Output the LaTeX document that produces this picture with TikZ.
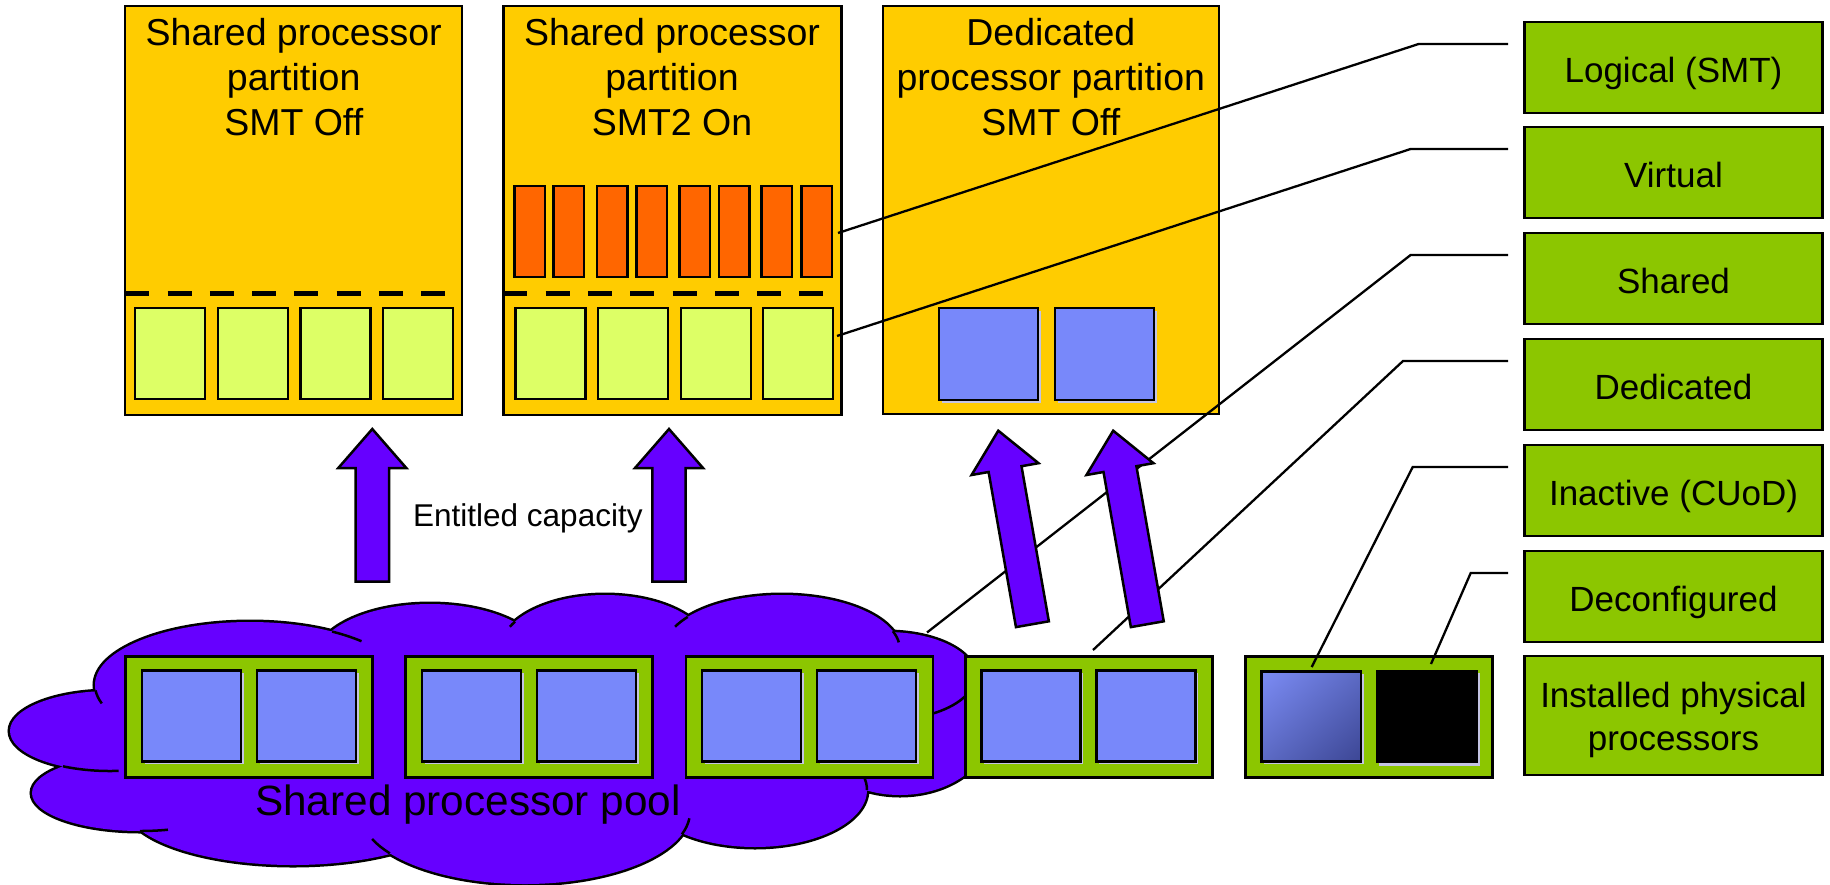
\documentclass[tikz,border=0pt]{standalone}
\usepackage{fontspec}
\setmainfont{Liberation Sans}
\usetikzlibrary{shadows,shadings,calc}

\definecolor{partgold}{RGB}{255,204,0}
\definecolor{corelime}{RGB}{221,255,102}
\definecolor{threadorange}{RGB}{255,102,0}
\definecolor{cpublue}{RGB}{120,136,250}
\definecolor{chassisgreen}{RGB}{140,198,0}
\definecolor{poolpurple}{RGB}{102,0,255}
\definecolor{cpushadow}{RGB}{196,196,226}
\definecolor{inactivelight}{RGB}{124,140,245}
\definecolor{inactivemid}{RGB}{92,106,196}
\definecolor{inactivedark}{RGB}{60,70,148}

\newcommand\parttitlefont{\fontsize{37.5}{45}\selectfont}
\newcommand\legendtextfont{\fontsize{35}{43}\selectfont}
\newcommand\poolnamefont{\fontsize{42.3}{48}\selectfont}
\newcommand\capacityfont{\fontsize{31.5}{38}\selectfont}

% lobes of the processor-pool cloud (pixel-style coordinates, y grows downwards)
\newcommand\poollobes{
  (250,685) ellipse [x radius=155, y radius=63]
  (430,660) ellipse [x radius=115, y radius=56]
  (605,650) ellipse [x radius=105, y radius=55]
  (782,650) ellipse [x radius=118, y radius=55]
  (887,676) ellipse [x radius=88, y radius=44]
  (900,730) ellipse [x radius=90, y radius=65]
  (755,790) ellipse [x radius=112, y radius=57]
  (525,812) ellipse [x radius=165, y radius=72]
  (293,805) ellipse [x radius=168, y radius=60]
  (140,793) ellipse [x radius=108, y radius=38]
  (110,731) ellipse [x radius=100, y radius=40]
  (490,720) ellipse [x radius=380, y radius=80]
}
% short inner arc of one lobe: centre x, centre y, rx, ry, from angle, to angle
\newcommand\lobestub[6]{%
  \draw[line width=2.5pt] (#1,#2) ++(#5:#3 and #4)
    arc[start angle=#5, end angle=#6, x radius=#3, y radius=#4];}
% broad block arrow: base x, base y, length, tilt
\newcommand\fatup[4]{%
  \path[fatarrow, shift={(#1,#2)}, rotate=#4]
    (-16.7,0) -- (-16.7,-#3+39) -- (-34,-#3+39) -- (0,-#3)
    -- (34,-#3+39) -- (16.7,-#3+39) -- (16.7,0) -- cycle;}

\begin{document}
\begin{tikzpicture}[x=1pt, y=-1pt,
  box/.style={draw=black, line width=2.5pt, inner sep=0pt, outer sep=0pt, anchor=north west},
  partition/.style={box, fill=partgold, minimum width=337pt, minimum height=409pt},
  core/.style={box, fill=corelime, minimum width=70pt, minimum height=91pt},
  thread/.style={box, fill=threadorange, minimum width=30.5pt, minimum height=91pt},
  cpushade/.style={drop shadow={shadow xshift=2.5pt, shadow yshift=-2.5pt, fill=cpushadow, opacity=1}},
  cpu/.style={box, fill=cpublue, cpushade, minimum width=99pt, minimum height=91pt},
  chassis/.style={box, fill=chassisgreen, minimum width=247pt, minimum height=121pt},
  legendbox/.style={box, fill=chassisgreen, minimum width=298pt, minimum height=91pt,
    font=\legendtextfont, align=center},
  legend/.style={legendbox, text height=29pt, text depth=0pt},
  title/.style={font=\parttitlefont, align=center, anchor=north, inner sep=0pt},
  leader/.style={draw=black, line width=2.3pt, line join=miter},
  entitlement/.style={line width=5pt, dash pattern=on 24pt off 18.3pt},
  fatarrow/.style={fill=poolpurple, draw=black, line width=2.5pt, line join=miter}
]
\useasboundingbox (0,0) rectangle (1830,884);
\fill[white] (0,0) rectangle (1830,884);

% ---- shared processor pool cloud ----
\draw[line width=5pt] \poollobes;
\fill[poolpurple] \poollobes;
\lobestub{250}{685}{155}{63}{302}{316}
\lobestub{250}{685}{155}{63}{175}{163}
\lobestub{110}{731}{100}{40}{118}{85}
\lobestub{140}{793}{108}{38}{90}{75}
\lobestub{525}{812}{165}{72}{145}{158}
\lobestub{525}{812}{165}{72}{18}{5}
\lobestub{755}{790}{112}{57}{0}{-15}
\lobestub{782}{650}{118}{55}{340}{352}
\lobestub{782}{650}{118}{55}{205}{217}
\lobestub{605}{650}{105}{55}{205}{211}
\lobestub{887}{676}{88}{44}{15}{75}

% ---- installed physical processors ----
\node[chassis] (chA) at (125.5,656.7) {};
\node[chassis] (chB) at (405.4,656.7) {};
\node[chassis] (chC) at (685.8,656.7) {};
\node[chassis] (chD) at (965.5,656.7) {};
\node[chassis] (chE) at (1245.3,656.7) {};
\node[cpu] (cA1) at (142,670.7) {};
\node[cpu] (cA2) at (257,670.7) {};
\node[cpu] (cB1) at (422,670.7) {};
\node[cpu] (cB2) at (537,670.7) {};
\node[cpu] (cC1) at (702,670.7) {};
\node[cpu] (cC2) at (817,670.7) {};
\node[cpu] (cD1) at (981.5,670.7) {};
\node[cpu] (cD2) at (1096.6,670.7) {};
\node[box, cpushade, shade, upper left=inactivelight, upper right=inactivemid,
      lower left=inactivemid, lower right=inactivedark,
      minimum width=99.5pt, minimum height=90pt] (cInact) at (1261.5,671.5) {};
\node[box, draw=none, fill=black, cpushade, minimum width=101.5pt, minimum height=93pt]
  (cDecon) at (1376,670) {};

\node[anchor=base, inner sep=0pt, font=\poolnamefont] (poolname) at (468,815) {Shared processor pool};

% ---- partitions ----
\node[partition] (p1) at (125.2,6) {};
\node[partition, minimum width=338pt] (p2) at (503.3,6) {};
\node[partition, minimum width=336pt, minimum height=408pt] (p3) at (882.9,6) {};

\node[title] (p1title) at (293.7,18) {Shared processor\\partition\\SMT Off};
\node[title] (p2title) at (672,18) {Shared processor\\partition\\SMT2 On};
\node[title] (p3title) at (1050.8,18) {Dedicated\\processor partition\\SMT Off};

\draw[entitlement] (125.2,293) -- (445,293);
\draw[entitlement] (503.3,293) -- (823,293);

\foreach \x [count=\i] in {135,218,300.5,383}
  \node[core] (vA\i) at (\x,308) {};
\foreach \x [count=\i] in {515.5,598,681,763}
  \node[core] (vB\i) at (\x,308) {};
\foreach \x [count=\i] in {514.5,553.7,596.8,636.6,679.3,719,761.6,801.4}
  \node[thread] (thr\i) at (\x,186) {};
\node[cpu, minimum height=92pt] (dc1) at (939,308) {};
\node[cpu, minimum height=92pt] (dc2) at (1055,308) {};

% ---- legend ----
\node[legend] (logical) at (1524.5,22) {Logical (SMT)};
\node[legend] (virtual) at (1524.5,127) {Virtual};
\node[legend] (shared) at (1524.5,233) {Shared};
\node[legend] (dedicated) at (1524.5,339) {Dedicated};
\node[legend] (inactive) at (1524.5,445) {Inactive (CUoD)};
\node[legend] (deconf) at (1524.5,551) {Deconfigured};
\node[legendbox, minimum height=119pt] (installed) at (1524.5,656)
  {\rule{0pt}{35pt}Installed physical\\processors};

% ---- leader lines ----
\coordinate (tapLogical) at (838,233);
\coordinate (tapVirtual) at (837,336);
\coordinate (tapShared) at (927,632.5);
\coordinate (tapDedicated) at (1093,650);
\coordinate (tapInactive) at (1311.7,667);
\coordinate (tapDeconf) at (1431,664);
\coordinate (kneeLogical) at (1418.6,44);
\coordinate (kneeVirtual) at (1410.6,149);
\coordinate (kneeShared) at (1410.6,255);
\coordinate (kneeDedicated) at (1403,361);
\coordinate (kneeInactive) at (1412.7,467);
\coordinate (kneeDeconf) at (1470.7,573);
\draw[leader] (tapLogical) -- (kneeLogical) -- ($(logical.north west)+(-16.5,22)$);
\draw[leader] (tapVirtual) -- (kneeVirtual) -- ($(virtual.north west)+(-16.5,22)$);
\draw[leader] (tapShared) -- (kneeShared) -- ($(shared.north west)+(-16.5,22)$);
\draw[leader] (tapDedicated) -- (kneeDedicated) -- ($(dedicated.north west)+(-16.5,22)$);
\draw[leader] (tapInactive) -- (kneeInactive) -- ($(inactive.north west)+(-16.5,22)$);
\draw[leader] (tapDeconf) -- (kneeDeconf) -- ($(deconf.north west)+(-16.5,22)$);

% ---- capacity arrows ----
\fatup{372.3}{581.7}{152.7}{0}
\fatup{669}{581.5}{152.5}{0}
\fatup{1032.4}{624.2}{196.5}{10}
\fatup{1147.3}{624.2}{196.5}{10}
\node[anchor=base west, inner sep=0pt, font=\capacityfont] (capacity) at (413,526) {Entitled capacity};
\end{tikzpicture}
\end{document}
